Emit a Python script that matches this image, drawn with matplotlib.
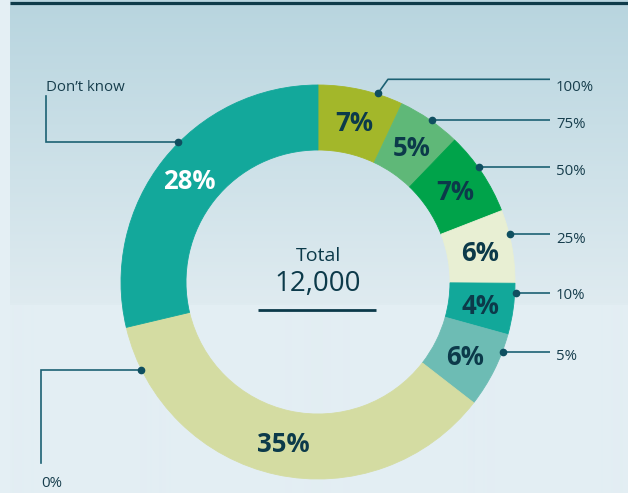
import numpy as np
import matplotlib
matplotlib.use("Agg")
import matplotlib.pyplot as plt
from matplotlib.colors import to_rgb

# ---------------- data ----------------
categories = ["100%", "75%", "50%", "25%", "10%", "5%", "0%", "Don\u2019t know"]
shares = [7.0, 5.2, 6.9, 6.0, 4.2, 6.2, 35.8, 28.7]
share_labels = ["7%", "5%", "7%", "6%", "4%", "6%", "35%", "28%"]
colors = ["#a3b72a", "#5fb878", "#00a34a", "#e8efd3", "#12a89a",
          "#6dbcb4", "#d4dca2", "#13a89b"]
label_colors = ["#0c3a4a"] * 7 + ["#ffffff"]
total_title = "Total"
total_value = "12,000"

# ---------------- layout ----------------
W, H = 628, 493
CX, CY = 318, 282          # ring centre (pixel coords, y down)
R_OUT, RING_W = 197, 65
NAVY = "#0c3a4a"
LEADER = "#1c6173"
FONT = "Open Sans"


def Y(py):
    return H - py


fig = plt.figure(figsize=(W / 100, H / 100), dpi=100)
fig.patch.set_facecolor("#e4eff4")
ax = fig.add_axes([0, 0, 1, 1])

# background gradient panel
top = np.array(to_rgb("#b8d5df"))
mid = np.array(to_rgb("#dfebf0"))
bot = np.array(to_rgb("#e3eef3"))
rows = np.arange(H)
t = np.clip(rows / 303.0, 0, 1)[:, None]
grad = top * (1 - t) + mid * t
grad[rows >= 305] = bot
ax.imshow(grad[:, None, :], extent=(10, W, 0, H), origin="upper",
          aspect="auto", zorder=0, interpolation="bilinear")
ax.plot([10, W], [Y(2.5), Y(2.5)], color="#0e3b4a", lw=2.3,
        solid_capstyle="butt", zorder=1)

# donut
wedges, _ = ax.pie(shares, colors=colors, radius=R_OUT, center=(CX, Y(CY)),
                   startangle=90, counterclock=False,
                   wedgeprops=dict(width=RING_W, linewidth=0.6))
for w in wedges:
    w.set_edgecolor(w.get_facecolor())
    w.set_zorder(2)

ax.set_xlim(0, W)
ax.set_ylim(0, H)
ax.set_aspect("equal")
ax.axis("off")

# percentage labels inside segments
mid_r = R_OUT - RING_W / 2
fs_pct = 18.5
for w, lab, c in zip(wedges, share_labels, label_colors):
    ang = np.deg2rad((w.theta1 + w.theta2) / 2)
    x = CX + mid_r * np.cos(ang)
    y = Y(CY) + mid_r * np.sin(ang)
    ax.text(x, y - 0.357 * fs_pct * 100 / 72, lab, ha="center", va="baseline",
            fontsize=fs_pct, fontweight="bold", color=c, family=FONT, zorder=5)

# leaders
R_DOT = 198
fs_lab = 10.8


def dot_x(py, side):
    dx = np.sqrt(max(R_DOT ** 2 - (py - CY) ** 2, 0))
    return CX + dx if side == "r" else CX - dx


right = [  # (category, dot_y, line_y, text_baseline)
    ("100%", 93.3, 79.3, 90.7),
    ("75%", 120.3, 120.3, 128.3),
    ("50%", 167.3, 167.3, 175.0),
    ("25%", 234.3, 234.3, 242.7),
    ("10%", 293.3, 293.3, 299.0),
    ("5%", 352.3, 352.3, 360.0),
]
for cat, dy, ly, by in right:
    x0 = dot_x(dy, "r")
    if dy != ly:
        xs = [x0, x0 + 10, 550]
        ys = [dy, ly, ly]
    else:
        xs = [x0, 550]
        ys = [dy, ly]
    ax.plot(xs, [Y(v) for v in ys], color=LEADER, lw=1.2, zorder=4,
            solid_capstyle="butt")
    ax.plot([x0], [Y(dy)], "o", color="#0f4f60", ms=4.5, zorder=4)
    ax.text(556, Y(by), cat, ha="left", va="baseline", fontsize=fs_lab,
            color="#173e4d", family=FONT)

left = [  # (category, dot_y, corner_x, end_y, text_x, text_baseline)
    ("Don\u2019t know", 142.3, 45.7, 96.0, 45.7, 91.0),
    ("0%", 370.3, 41.0, 463.3, 41.0, 486.7),
]
for cat, dy, cx_, ey, tx, by in left:
    x0 = dot_x(dy, "l")
    ax.plot([x0, cx_, cx_], [Y(dy), Y(dy), Y(ey)], color=LEADER, lw=1.2,
            zorder=4, solid_joinstyle="miter")
    ax.plot([x0], [Y(dy)], "o", color="#0f4f60", ms=4.5, zorder=4)
    ax.text(tx, Y(by), cat, ha="left", va="baseline", fontsize=fs_lab,
            color="#173e4d", family=FONT)

# centre total
ax.text(CX, Y(260.7), total_title, ha="center", va="baseline", fontsize=14,
        color=NAVY, family=FONT)
ax.text(CX, Y(291.0), total_value, ha="center", va="baseline", fontsize=20,
        color=NAVY, family=FONT)
ax.plot([258, 376], [Y(309.5), Y(309.5)], color=NAVY, lw=2.0,
        solid_capstyle="butt")

fig.savefig("out.png", dpi=100, facecolor=fig.get_facecolor())
